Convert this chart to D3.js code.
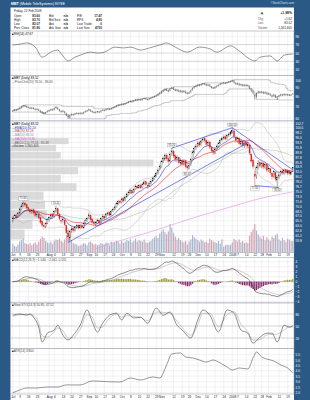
<!DOCTYPE html>
<html>
<head>
<meta charset="utf-8">
<script src="https://cdn.jsdelivr.net/npm/d3@7"></script>
<style>
  html, body { margin: 0; padding: 0; background: #2b5986; }
  svg { display: block; font-family: "Liberation Sans", Arial, sans-serif; }
</style>
</head>
<body>
<svg id="chart"></svg>
<script>
// ---------- data ----------
const startDate = '2007-07-02';
const endDate = '2008-02-22';
const holidays = ['2007-07-04', '2007-09-03', '2007-11-22', '2007-12-25', '2008-01-01', '2008-01-21', '2008-02-18'];

// daily prices, one row per week
const opens = [
  65.6, 66.3, 67.1, 66.6,
  67.9, 69.0, 70.3, 71.1, 70.5,
  69.6, 68.9, 68.1, 68.9, 68.0,
  67.0, 67.5, 66.4, 65.3, 64.0,
  63.9, 64.8, 65.8, 66.3, 67.5,
  66.9, 68.4, 69.2, 67.4, 65.5,
  65.6, 65.7, 64.1, 61.8, 60.5,
  62.6, 63.2, 62.7, 63.6, 64.1,
  63.4, 64.2, 63.4, 64.9, 65.5,
  66.4, 67.2, 65.9, 64.9,
  64.4, 64.8, 65.6, 64.8, 66.2,
  66.9, 66.4, 67.4, 68.0, 67.3,
  68.6, 69.0, 69.9, 70.8, 71.7,
  71.3, 72.6, 71.9, 73.1, 73.8,
  74.7, 75.3, 74.5, 75.9, 76.8,
  76.2, 77.1, 76.3, 77.6, 78.4,
  77.0, 76.9, 77.8, 78.7, 79.6,
  80.5, 81.3, 82.9, 84.0, 86.1,
  87.0, 88.6, 87.3, 86.2, 89.2,
  90.0, 88.4, 86.7, 87.6, 85.4,
  86.5, 85.0, 86.3, 84.2,
  83.4, 84.8, 87.1, 89.9, 91.7,
  92.3, 93.8, 92.9, 94.6, 95.5,
  94.8, 93.0, 94.1, 91.6, 90.5,
  89.4, 90.9, 92.3, 93.7, 95.0,
  95.7, 96.4, 95.5, 96.9,
  97.6, 98.5, 99.0, 96.3,
  94.6, 95.8, 93.2, 94.4, 92.5,
  93.8, 92.4, 92.8, 89.0, 86.5,
  81.2, 80.6, 83.8, 85.6,
  84.1, 85.4, 83.7, 84.9, 82.8,
  83.2, 81.5, 80.4, 81.8, 79.0,
  79.9, 81.0, 82.4, 81.5, 82.8,
  81.6, 82.5, 81.2, 83.60
];
const highs = [
  66.8, 67.5, 67.6, 68.2,
  69.4, 70.6, 71.6, 71.5, 70.9,
  70.0, 69.3, 69.2, 69.3, 68.3,
  68.1, 67.9, 66.7, 65.8, 65.0,
  65.1, 66.3, 66.9, 67.8, 68.1,
  68.8, 70.2, 69.6, 67.9, 66.4,
  66.5, 66.0, 64.4, 62.9, 62.9,
  63.8, 63.7, 64.0, 64.6, 64.5,
  64.6, 64.7, 65.2, 66.1, 66.7,
  68.0, 67.5, 66.3, 65.5,
  65.4, 66.0, 65.9, 66.5, 67.3,
  67.2, 68.0, 68.4, 68.3, 68.9,
  69.6, 70.3, 71.4, 72.1, 72.2,
  72.9, 73.0, 73.5, 74.5, 75.2,
  75.9, 75.7, 76.3, 77.3, 77.4,
  77.6, 77.8, 78.0, 78.9, 78.8,
  77.9, 78.5, 79.3, 80.1, 81.0,
  82.0, 83.4, 84.8, 86.6, 88.0,
  89.3, 89.4, 88.1, 89.6, 91.5,
  90.8, 89.0, 88.6, 88.0, 87.3,
  87.0, 87.1, 86.8, 84.9,
  85.3, 87.5, 90.4, 92.3, 93.4,
  94.5, 94.6, 95.3, 96.2, 96.3,
  95.2, 94.9, 94.6, 92.3, 91.2,
  91.6, 93.0, 94.2, 95.6, 96.5,
  96.9, 96.8, 97.4, 98.3,
  99.0, 100.5, 99.6, 97.0,
  96.4, 96.1, 95.0, 94.9, 94.3,
  94.5, 94.0, 93.2, 89.5, 87.2,
  82.6, 84.5, 86.6, 86.4,
  86.0, 85.9, 85.6, 85.3, 84.5,
  83.6, 82.0, 82.8, 82.2, 80.6,
  81.7, 82.9, 83.1, 83.3, 83.2,
  83.0, 82.9, 82.5, 83.70
];
const lows = [
  65.0, 66.0, 66.1, 66.4,
  67.5, 68.7, 69.8, 69.9, 69.0,
  68.5, 67.8, 67.6, 67.5, 66.7,
  66.6, 66.0, 64.6, 63.5, 62.9,
  63.3, 64.5, 65.2, 65.9, 66.2,
  66.5, 67.9, 67.1, 65.6, 64.5,
  64.9, 63.9, 61.6, 59.3, 59.8,
  61.9, 62.0, 62.3, 63.1, 62.9,
  63.0, 63.0, 63.1, 64.5, 65.1,
  66.0, 65.4, 64.6, 64.0,
  63.8, 64.5, 64.3, 64.6, 65.8,
  65.8, 66.2, 67.0, 66.8, 67.1,
  68.2, 68.7, 69.6, 70.5, 70.7,
  71.0, 71.3, 71.6, 72.8, 73.5,
  74.2, 73.9, 74.2, 75.5, 75.6,
  75.9, 75.7, 76.0, 77.2, 76.9,
  75.8, 76.5, 77.4, 78.3, 79.2,
  80.1, 81.0, 82.5, 83.6, 85.4,
  86.2, 86.4, 84.9, 85.8, 88.4,
  87.4, 85.9, 85.8, 84.8, 84.6,
  84.2, 84.3, 83.3, 82.4,
  82.9, 84.2, 86.8, 89.2, 90.8,
  91.9, 92.0, 92.5, 93.9, 93.8,
  92.4, 92.3, 91.2, 89.5, 88.6,
  88.9, 90.3, 91.8, 93.1, 94.3,
  95.1, 94.8, 95.1, 96.3,
  96.9, 97.8, 95.8, 93.9,
  93.8, 92.7, 92.4, 91.8, 91.6,
  91.9, 91.5, 88.6, 85.4, 83.2,
  77.0, 79.4, 82.9, 83.5,
  83.4, 83.0, 82.9, 82.0, 81.9,
  80.9, 79.1, 79.8, 78.6, 76.5,
  79.2, 80.4, 80.9, 80.8, 81.1,
  80.9, 80.6, 80.7, 82.07
];
const closes = [
  66.2, 67.0, 66.5, 67.8,
  68.9, 70.1, 71.0, 70.4, 69.5,
  69.0, 68.2, 68.8, 67.9, 67.1,
  67.6, 66.3, 65.0, 64.2, 63.8,
  64.6, 65.9, 66.4, 67.2, 66.8,
  68.3, 69.4, 67.6, 66.1, 65.4,
  65.8, 64.3, 62.0, 60.8, 62.4,
  63.1, 62.6, 63.5, 64.0, 63.3,
  64.1, 63.5, 64.8, 65.6, 66.2,
  67.3, 65.8, 65.1, 64.6,
  64.9, 65.5, 64.7, 66.1, 66.8,
  66.3, 67.5, 67.9, 67.2, 68.4,
  69.1, 69.8, 70.9, 71.6, 71.2,
  72.4, 71.8, 73.0, 73.9, 74.6,
  75.2, 74.4, 75.8, 76.7, 76.1,
  77.0, 76.2, 77.5, 78.3, 77.4,
  76.8, 77.9, 78.6, 79.5, 80.3,
  81.4, 82.7, 84.1, 85.9, 87.2,
  88.4, 87.1, 86.0, 88.9, 90.3,
  88.2, 86.9, 87.5, 85.6, 86.4,
  85.1, 86.2, 84.0, 83.5,
  84.6, 86.9, 89.8, 91.5, 92.4,
  93.6, 92.8, 94.5, 95.3, 94.6,
  93.1, 94.0, 91.8, 90.4, 89.6,
  90.8, 92.2, 93.5, 94.9, 95.6,
  96.2, 95.4, 96.8, 97.5,
  98.3, 99.2, 96.5, 94.8,
  95.6, 93.4, 94.2, 92.7, 93.5,
  92.6, 93.1, 89.4, 86.2, 84.1,
  80.3, 83.6, 85.4, 84.3,
  85.2, 83.9, 84.8, 82.6, 83.4,
  81.7, 80.2, 82.1, 79.3, 79.8,
  80.9, 82.2, 81.6, 82.7, 81.8,
  82.4, 81.3, 81.9, 83.52
];
// volume in millions of shares
const volumes = [
  1.2, 0.9, 0.8, 1.1,
  1.5, 1.7, 1.9, 1.3, 1.2,
  1.1, 1.3, 1.0, 1.2, 1.4,
  1.1, 1.5, 1.9, 2.2, 2.0,
  1.6, 1.4, 1.3, 1.5, 1.2,
  1.6, 1.8, 1.7, 1.9, 1.6,
  1.4, 1.8, 2.4, 3.1, 2.6,
  1.7, 1.3, 1.2, 1.1, 0.9,
  1.0, 1.1, 1.3, 1.2, 1.0,
  1.4, 1.5, 1.3, 1.1,
  1.2, 1.0, 1.1, 1.3, 1.2,
  1.1, 1.4, 1.3, 1.0, 1.5,
  1.3, 1.4, 1.6, 1.5, 1.2,
  1.6, 1.3, 1.5, 1.7, 1.6,
  1.8, 1.4, 1.6, 1.9, 1.5,
  1.7, 1.6, 1.5, 1.8, 1.4,
  1.3, 1.5, 1.6, 1.9, 2.1,
  2.3, 2.0, 2.6, 2.9, 3.2,
  2.8, 2.5, 2.9, 3.9, 3.4,
  2.7, 2.2, 1.8, 2.0, 1.7,
  1.5, 1.4, 1.6, 1.1,
  1.5, 1.8, 2.4, 2.1, 1.9,
  1.7, 1.5, 1.8, 1.6, 1.4,
  1.5, 1.3, 1.9, 1.7, 1.5,
  1.4, 1.3, 1.6, 1.2, 1.8,
  0.8, 1.0, 1.1, 1.0,
  1.1, 1.4, 1.9, 1.7,
  1.5, 1.8, 1.4, 1.6, 1.3,
  1.4, 1.3, 2.3, 2.8, 3.2,
  3.9, 3.0, 2.5, 2.2,
  1.9, 2.3, 1.7, 2.1, 1.8,
  1.6, 2.2, 2.0, 2.4, 2.6,
  1.8, 1.6, 2.0, 1.7, 1.5,
  1.9, 1.8, 1.6, 1.561605
];

const ma200Days = [48, 58, 68, 78, 88, 98, 107, 117, 126, 135, 144, 154, 162];
const ma200Values = [57.6, 59.2, 60.6, 62.0, 63.6, 65.3, 66.8, 68.4, 69.8, 71.3, 72.7, 73.9, 74.85];

// volume-by-price zones (bottom zone first), millions
const vbpEdges = [60, 63, 66, 69, 72, 75, 78, 81, 84, 87, 90, 93, 96];
const vbpVolume = [9, 14, 23, 22, 21, 42, 32, 43, 91, 32, 29, 37];

// drawn trend lines: [day, price] end points
const trendFrom = [[32, 59.3], [92, 91.5], [127, 100.5], [140, 77.0]];
const trendTo = [[136, 93.8], [127, 100.5], [162, 82.8], [154, 76.3]];

// price labels at the pivots
const pivotDays = [6, 25, 92, 101, 127, 140, 153];
const pivotSide = ['high', 'high', 'high', 'low', 'high', 'low', 'low'];
const pivotText = ['71.60', '70.20', '91.50', '82.40', '100.50', '77.00', '76.50'];

// indicator lines
const rsiDays = [0, 4, 8, 13, 17, 22, 26, 29, 32, 36, 39, 45, 49, 53, 59, 64, 68, 74, 79, 85, 89, 94, 101, 108, 114, 118, 126, 131, 137, 140, 143, 149, 153, 157, 162];
const rsiValues = [69, 71, 74, 64, 40, 52, 57, 43, 31, 40, 45, 52, 50, 52, 64, 62, 64, 57, 62, 69, 74, 64, 52, 64, 60, 52, 67, 55, 36, 31, 40, 43, 31, 45, 47.67];

const stoDays = [0, 4, 8, 10, 12, 15, 17, 20, 24, 26, 29, 32, 35, 39, 43, 46, 49, 52, 56, 60, 63, 66, 70, 74, 78, 83, 87, 91, 95, 98, 103, 107, 110, 114, 119, 124, 128, 132, 136, 139, 143, 147, 150, 153, 157, 160, 162];
const stoK = [77, 80, 77, 80, 72, 47, 10, 32, 40, 52, 27, 15, 27, 52, 90, 60, 35, 57, 77, 82, 65, 82, 70, 72, 57, 95, 77, 85, 52, 40, 20, 65, 90, 77, 35, 90, 82, 40, 32, 7, 22, 32, 32, 10, 52, 47, 50.85];
const stoD = [75, 78, 79, 78, 76, 58, 25, 22, 36, 45, 38, 20, 21, 42, 78, 72, 45, 48, 70, 80, 72, 76, 74, 71, 63, 85, 84, 82, 62, 46, 27, 52, 82, 82, 48, 78, 86, 55, 36, 15, 16, 28, 29, 30, 40, 48, 47.52];

const atrDays = [0, 4, 8, 14, 20, 26, 31, 39, 46, 55, 62, 68, 74, 81, 85, 89, 92, 97, 100, 104, 108, 112, 116, 120, 124, 127, 131, 136, 139, 141, 144, 147, 151, 155, 159, 162];
const atrValues = [1.97, 2.22, 2.41, 2.41, 2.5, 2.5, 2.69, 2.69, 3.06, 2.99, 2.96, 3.33, 3.15, 3.43, 3.33, 4.54, 5.56, 5.65, 5.28, 5.19, 5.0, 4.81, 5.0, 4.72, 4.35, 4.07, 4.26, 4.17, 5.19, 5.74, 5.28, 5.09, 4.91, 4.54, 4.26, 3.80];

// axis tick labels
const rsiTicks = [90, 70, 50, 30, 10];
const chanTicks = [100, 90, 80, 70, 60];
const priceTicks = [102.7, 100.5, 98.2, 96.0, 93.9, 91.8, 89.8, 87.8, 85.8, 83.9, 82.0, 80.2, 78.4, 76.7, 75.0, 73.3, 71.6, 70.0, 68.5, 67.0, 65.5, 64.0, 62.6, 61.2, 59.8];
const macdTicks = [4, 3, 2, 1, 0, -1, -2, -3, -4];
const stoTicks = [80, 50, 20];
const atrTicks = [5.5, 5.0, 4.5, 4.0, 3.5, 3.0, 2.5, 2.0];
const monthNames = ['2008', 'Feb', 'Mar', 'Apr', 'May', 'Jun', 'Jul', 'Aug', 'Sep', 'Oct', 'Nov', 'Dec'];

// quote box
const symbolName = 'MBT';
const companyName = '(Mobile TeleSystems) NYSE';
const quoteDate = 'Friday, 22 Feb 2008';
const quoteRows = [
  ['Open', '83.60', 'Bid', 'n/a', 'P/E', '17.47'],
  ['High', '83.70', 'Bid Size', 'n/a', 'EPS', '4.80'],
  ['Low', '82.07', 'Ask', 'n/a', 'Last Trade', '0'],
  ['Prev Close', '81.90', 'Ask Size', 'n/a', 'Last Size', '4700']
];
const quotePct = '+1.98%';
const quoteRight = [['Chg', '+1.62'], ['Last', '83.52'], ['Volume', '1,561,605']];


class StockChart {

    constructor(_config) {
        this.config = {
            parentElement: _config.parentElement,
            containerWidth: _config.containerWidth || 310,
            containerHeight: _config.containerHeight || 400,
            left: 10.5,
            right: 294
        }
        this.initVis();
    }

    initVis() {
        let vis = this;
        const n = closes.length;

        vis.svg = d3.select(vis.config.parentElement)
            .attr('width', vis.config.containerWidth)
            .attr('height', vis.config.containerHeight);

        vis.panels = {
            rsi:   {top: 31,    bottom: 75.5},
            chan:  {top: 75.5,  bottom: 121},
            price: {top: 121,   bottom: 252.5},
            macd:  {top: 257.5, bottom: 303},
            sto:   {top: 303,   bottom: 348.5},
            atr:   {top: 348.5, bottom: 394}
        };

        vis.x = d3.scaleLinear().domain([0, n - 1]).range([12.8, 292.8]);
        vis.rsiY = d3.scaleLinear().domain([0, 100]).range([74, 32]);
        vis.chanY = d3.scaleLog().domain([60, 100]).range([118, 80]);
        vis.priceY = d3.scaleLog().domain([58.6, 102.7]).range([245, 123]);
        vis.volY = d3.scaleLinear().domain([0, 4.2]).range([252.5, 222]);
        vis.vbpW = d3.scaleLinear().domain([0, 91]).range([0, 143]);
        vis.macdY = d3.scaleLinear().domain([-4, 4]).range([301.7, 261.7]);
        vis.stoY = d3.scaleLinear().domain([0, 100]).range([346, 306]);
        vis.atrY = d3.scaleLinear().domain([2, 5.5]).range([392.4, 354.6]);

        vis.updateVis();
    }

    updateVis() {
        let vis = this;

        // trading days and the date labels
        const hol = new Set(holidays);
        vis.days = [];
        for (let d = new Date(startDate + 'T00:00:00Z'); d <= new Date(endDate + 'T00:00:00Z'); d.setUTCDate(d.getUTCDate() + 1)) {
            const wd = d.getUTCDay();
            if (wd === 0 || wd === 6 || hol.has(d.toISOString().slice(0, 10))) continue;
            vis.days.push(new Date(d));
        }
        const monthIdx = [], weekIdx = [];
        vis.days.forEach((d, i) => {
            const prev = vis.days[i - 1];
            if (!prev || prev.getUTCMonth() !== d.getUTCMonth()) monthIdx.push(i);
            else if (d.getUTCDay() < prev.getUTCDay()) weekIdx.push(i);
        });
        vis.dateLabels = new Map();
        monthIdx.forEach(i => vis.dateLabels.set(i, monthNames[vis.days[i].getUTCMonth()]));
        weekIdx.forEach(i => {
            if (!monthIdx.some(m => Math.abs(m - i) <= 2)) vis.dateLabels.set(i, String(vis.days[i].getUTCDate()));
        });
        vis.dateIdx = Array.from(vis.dateLabels.keys()).sort((a, b) => a - b);

        // overlays computed from the prices
        const sma = (arr, p) => arr.map((v, i) => d3.mean(arr.slice(Math.max(0, i - p + 1), i + 1)));
        const ema = (arr, p) => {
            const k = 2 / (p + 1), out = [];
            arr.forEach((v, i) => out.push(i ? v * k + out[i - 1] * (1 - k) : v));
            return out;
        };
        vis.ema10 = ema(closes, 10);
        vis.ma20 = sma(closes, 20);
        vis.ma50 = sma(closes, 50);
        vis.bbUp = [], vis.bbDn = [];
        closes.forEach((v, i) => {
            const w = closes.slice(Math.max(0, i - 19), i + 1);
            const m = d3.mean(w);
            const sd = Math.sqrt(d3.mean(w, c => (c - m) * (c - m)));
            vis.bbUp.push(m + 2 * sd);
            vis.bbDn.push(m - 2 * sd);
        });
        vis.chanUp = highs.map((v, i) => i ? d3.max(highs.slice(Math.max(0, i - 20), i)) : v);
        vis.chanDn = lows.map((v, i) => i ? d3.min(lows.slice(Math.max(0, i - 20), i)) : v);

        const e12 = ema(closes, 12), e26 = ema(closes, 26);
        vis.macd = e12.map((v, i) => v - e26[i]);
        vis.signal = ema(vis.macd, 9);
        vis.hist = vis.macd.map((v, i) => v - vis.signal[i]);

        vis.renderVis();
    }

    panelFrame(p, name, ticks, yScale, fmt) {
        let vis = this;
        const L = vis.config.left, R = vis.config.right;
        const g = vis.svg.append('g');
        g.append('rect')
            .attr('x', L).attr('y', p.top)
            .attr('width', R - L).attr('height', p.bottom - p.top)
            .attr('fill', '#fff');
        g.selectAll('.vgrid')
            .data(vis.dateIdx)
            .join('line')
            .attr('x1', d => vis.x(d)).attr('x2', d => vis.x(d))
            .attr('y1', p.top).attr('y2', p.bottom)
            .attr('stroke', '#dedede').attr('stroke-width', 0.4);
        g.selectAll('.hgrid')
            .data(ticks)
            .join('line')
            .attr('x1', L).attr('x2', R)
            .attr('y1', d => yScale(d)).attr('y2', d => yScale(d))
            .attr('stroke', '#dedede').attr('stroke-width', 0.4);

        vis.svg.append('clipPath').attr('id', 'clip-' + name)
            .append('rect')
            .attr('x', L).attr('y', p.top)
            .attr('width', R - L).attr('height', p.bottom - p.top);

        // right axis on the blue margin
        vis.svg.append('g')
            .attr('transform', `translate(${R},0)`)
            .call(d3.axisRight(yScale).tickValues(ticks).tickSize(0).tickPadding(1.6).tickFormat(fmt))
            .call(a => a.select('.domain').remove())
            .attr('font-size', 3.1)
            .attr('font-family', '"Liberation Sans", Arial, sans-serif')
            .call(a => a.selectAll('text').attr('fill', '#ffffff'));

        return vis.svg.append('g').attr('clip-path', `url(#clip-${name})`);
    }

    border(p) {
        let vis = this;
        vis.svg.append('rect')
            .attr('x', vis.config.left).attr('y', p.top)
            .attr('width', vis.config.right - vis.config.left).attr('height', p.bottom - p.top)
            .attr('fill', 'none').attr('stroke', '#8594a8').attr('stroke-width', 0.5);
    }

    legend(x, y, items) {
        let vis = this;
        const g = vis.svg.append('g').attr('font-size', 3.1);
        items.forEach((d, k) => {
            const t = g.append('text').attr('x', x).attr('y', y + k * 3.7);
            t.append('tspan').attr('fill', d.color).attr('font-size', 2.8).text(d.sym);
            t.append('tspan').attr('fill', d.textColor || d.color).text(d.text);
        });
    }

    dateAxis(y) {
        let vis = this;
        vis.svg.append('g')
            .attr('transform', `translate(0,${y})`)
            .call(d3.axisBottom(vis.x).tickValues(vis.dateIdx).tickSize(0).tickPadding(0)
                .tickFormat(i => vis.dateLabels.get(i)))
            .call(a => a.select('.domain').remove())
            .attr('font-size', 3.2)
            .attr('font-family', '"Liberation Sans", Arial, sans-serif')
            .call(a => a.selectAll('text').attr('fill', '#222'));
    }

    renderVis() {
        let vis = this;
        const n = closes.length;
        const L = vis.config.left, R = vis.config.right;
        const P = vis.panels;
        const f2 = d3.format('.2f'), f3 = d3.format('.3f');
        const x = vis.x;

        // frame
        vis.svg.append('rect').attr('width', 310).attr('height', 400).attr('fill', '#2b5986');
        vis.svg.append('rect').attr('x', L).attr('y', 7.5).attr('width', R - L).attr('height', 392.5).attr('fill', '#fff');

        // title bar
        const title = vis.svg.append('text').attr('x', 11).attr('y', 5).attr('font-size', 3.6).attr('fill', '#fff');
        title.append('tspan').attr('font-weight', 'bold').text(symbolName + ' ');
        title.append('tspan').text(companyName);
        vis.svg.append('text').attr('x', R).attr('y', 4.4).attr('text-anchor', 'end')
            .attr('font-size', 2.8).attr('fill', '#d5e3f2').text('\u00a9StockCharts.com');

        // quote box
        const q = vis.svg.append('g').attr('font-size', 3.1).attr('fill', '#222');
        q.append('text').attr('x', 14).attr('y', 12.3).text(quoteDate);
        const colLab = [14, 49, 77], colVal = [40, 68, 102];
        quoteRows.forEach((row, r) => {
            const yy = 17.3 + r * 3.9;
            for (let c = 0; c < 3; c++) {
                q.append('text').attr('x', colLab[c]).attr('y', yy).text(row[c * 2]);
                q.append('text').attr('x', colVal[c]).attr('y', yy).attr('text-anchor', 'end')
                    .attr('font-weight', 'bold').text(row[c * 2 + 1]);
            }
        });
        q.append('path').attr('d', 'M262,11.6 L263.6,14.3 L260.4,14.3 Z').attr('fill', '#1f8a2e');
        q.append('text').attr('x', 292).attr('y', 14.4).attr('text-anchor', 'end')
            .attr('font-weight', 'bold').attr('font-size', 3.4).text(quotePct);
        quoteRight.forEach((row, r) => {
            const yy = 20.2 + r * 4.2;
            q.append('text').attr('x', 258).attr('y', yy).attr('font-size', 2.8).attr('fill', '#555').text(row[0]);
            q.append('text').attr('x', 292).attr('y', yy).attr('text-anchor', 'end').text(row[1]);
        });

        // ---------- RSI ----------
        let g = vis.panelFrame(P.rsi, 'rsi', rsiTicks, vis.rsiY, d3.format('d'));
        [70, 30].forEach(v => g.append('line').attr('x1', L).attr('x2', R)
            .attr('y1', vis.rsiY(v)).attr('y2', vis.rsiY(v)).attr('stroke', '#b0b0b0').attr('stroke-width', 0.4));
        g.append('line').attr('x1', L).attr('x2', R).attr('y1', vis.rsiY(50)).attr('y2', vis.rsiY(50))
            .attr('stroke', '#999').attr('stroke-width', 0.4).attr('stroke-dasharray', '1.2,0.8');
        g.append('path').datum(rsiValues)
            .attr('d', d3.line().x((v, i) => x(rsiDays[i])).y(v => vis.rsiY(v)).curve(d3.curveMonotoneX))
            .attr('fill', 'none').attr('stroke', '#333').attr('stroke-width', 0.5);
        vis.border(P.rsi);
        vis.legend(12, 34.8, [{sym: '\u25a0', color: '#000', text: `RSI(14) ${f2(rsiValues[rsiValues.length - 1])}`}]);

        // ---------- price channel panel ----------
        g = vis.panelFrame(P.chan, 'chan', chanTicks, vis.chanY, d3.format('d'));
        [vis.chanUp, vis.chanDn].forEach(arr => g.append('path').datum(arr)
            .attr('d', d3.line().x((v, i) => x(i)).y(v => vis.chanY(v)).curve(d3.curveStepAfter))
            .attr('fill', 'none').attr('stroke', '#8a8a9a').attr('stroke-width', 0.45));
        g.selectAll('.hl').data(closes).join('line')
            .attr('x1', (d, i) => x(i)).attr('x2', (d, i) => x(i))
            .attr('y1', (d, i) => vis.chanY(highs[i])).attr('y2', (d, i) => vis.chanY(lows[i]))
            .attr('stroke', '#2a2a2a').attr('stroke-width', 0.5);
        g.append('path').datum(closes)
            .attr('d', d3.line().x((v, i) => x(i)).y(v => vis.chanY(v)))
            .attr('fill', 'none').attr('stroke', '#444').attr('stroke-width', 0.3);
        vis.border(P.chan);
        vis.legend(12, 79.3, [
            {sym: '\u25a0', color: '#000', text: `${symbolName} (Daily) ${f2(closes[n - 1])}`},
            {sym: '\u2014', color: '#8a8a9a', textColor: '#555', text: `PriceChnl(20) ${f2(vis.chanDn[n - 1])} - ${f2(vis.chanUp[n - 1])}`}
        ]);

        // ---------- price panel ----------
        g = vis.panelFrame(P.price, 'price', priceTicks, vis.priceY, d3.format('.1f'));
        // volume by price
        g.selectAll('.vbp').data(vbpVolume).join('rect')
            .attr('x', L)
            .attr('y', (d, i) => vis.priceY(vbpEdges[i + 1]) + 0.4)
            .attr('width', d => vis.vbpW(d))
            .attr('height', (d, i) => vis.priceY(vbpEdges[i]) - vis.priceY(vbpEdges[i + 1]) - 0.8)
            .attr('fill', '#cfcfcf').attr('opacity', 0.75);
        // volume
        g.selectAll('.vol').data(volumes).join('rect')
            .attr('x', (d, i) => x(i) - 0.6)
            .attr('y', d => vis.volY(d))
            .attr('width', 1.2)
            .attr('height', d => vis.volY(0) - vis.volY(d))
            .attr('fill', (d, i) => (i && closes[i] < closes[i - 1]) ? '#d3a6b4' : '#a9b6cc');
        // bands and averages
        const ln = arr => d3.line().x((v, i) => x(i)).y(v => vis.priceY(v))(arr);
        [vis.bbUp, vis.bbDn].forEach(arr => g.append('path').attr('d', ln(arr))
            .attr('fill', 'none').attr('stroke', '#b4b4b4').attr('stroke-width', 0.5));
        g.append('path').datum(ma200Values)
            .attr('d', d3.line().x((v, i) => x(ma200Days[i])).y(v => vis.priceY(v)).curve(d3.curveMonotoneX))
            .attr('fill', 'none').attr('stroke', '#e58be5').attr('stroke-width', 0.6);
        g.append('path').attr('d', ln(vis.ma50)).attr('fill', 'none').attr('stroke', '#9fb59f').attr('stroke-width', 0.5);
        g.append('path').attr('d', ln(vis.ma20)).attr('fill', 'none').attr('stroke', '#e3261f').attr('stroke-width', 0.6);
        g.append('path').attr('d', ln(vis.ema10)).attr('fill', 'none').attr('stroke', '#2b36c8').attr('stroke-width', 0.6);
        // candles
        const cColor = i => (i && closes[i] < closes[i - 1]) ? '#e0201b' : '#000';
        g.selectAll('.wick').data(closes).join('line')
            .attr('x1', (d, i) => x(i)).attr('x2', (d, i) => x(i))
            .attr('y1', (d, i) => vis.priceY(highs[i])).attr('y2', (d, i) => vis.priceY(lows[i]))
            .attr('stroke', (d, i) => cColor(i)).attr('stroke-width', 0.35);
        g.selectAll('.body').data(closes).join('rect')
            .attr('x', (d, i) => x(i) - 0.55)
            .attr('y', (d, i) => vis.priceY(Math.max(opens[i], d)))
            .attr('width', 1.1)
            .attr('height', (d, i) => Math.max(0.4, Math.abs(vis.priceY(opens[i]) - vis.priceY(d))))
            .attr('fill', (d, i) => d > opens[i] ? '#fff' : cColor(i))
            .attr('stroke', (d, i) => cColor(i)).attr('stroke-width', 0.25);
        // trend lines
        g.selectAll('.trend').data(trendFrom).join('line')
            .attr('x1', d => x(d[0])).attr('y1', d => vis.priceY(d[1]))
            .attr('x2', (d, i) => x(trendTo[i][0])).attr('y2', (d, i) => vis.priceY(trendTo[i][1]))
            .attr('stroke', '#1f2fd0').attr('stroke-width', 0.6);
        // pivot labels
        pivotDays.forEach((day, k) => {
            const yy = pivotSide[k] === 'high' ? vis.priceY(highs[day]) - 4.6 : vis.priceY(lows[day]) + 1.2;
            const w = pivotText[k].length * 1.55 + 1;
            g.append('rect').attr('x', x(day) - w / 2).attr('y', yy).attr('width', w).attr('height', 3.4)
                .attr('fill', '#fff').attr('stroke', '#8c8c8c').attr('stroke-width', 0.3);
            g.append('text').attr('x', x(day)).attr('y', yy + 2.6).attr('text-anchor', 'middle')
                .attr('font-size', 2.7).attr('fill', '#333').text(pivotText[k]);
        });
        vis.border(P.price);
        vis.legend(12, 125, [
            {sym: '\u25a0', color: '#000', text: `${symbolName} (Daily) ${f2(closes[n - 1])}`},
            {sym: '\u2014', color: '#2b36c8', text: `EMA(10) ${f2(vis.ema10[n - 1])}`},
            {sym: '\u2014', color: '#e3261f', text: `MA(20) ${f2(vis.ma20[n - 1])}`},
            {sym: '\u2014', color: '#7c9c7c', text: `MA(50) ${f2(vis.ma50[n - 1])}`},
            {sym: '\u2014', color: '#d55fd5', text: `MA(200) ${f2(ma200Values[ma200Values.length - 1])}`},
            {sym: '\u2014', color: '#999', textColor: '#666', text: `BB(20,2.0) ${f2(vis.bbDn[n - 1])} - ${f2(vis.bbUp[n - 1])}`},
            {sym: '\u25a0', color: '#7f8fb0', textColor: '#333', text: `Volume ${d3.format(',')(Math.round(volumes[n - 1] * 1e6))}`}
        ]);
        vis.dateAxis(253.6);

        // ---------- MACD ----------
        g = vis.panelFrame(P.macd, 'macd', macdTicks, vis.macdY, d3.format('d'));
        g.append('line').attr('x1', L).attr('x2', R).attr('y1', vis.macdY(0)).attr('y2', vis.macdY(0))
            .attr('stroke', '#9a9a9a').attr('stroke-width', 0.4);
        g.selectAll('.hist').data(vis.hist).join('rect')
            .attr('x', (d, i) => x(i) - 0.65)
            .attr('y', d => vis.macdY(Math.max(0, d)))
            .attr('width', 1.3)
            .attr('height', d => Math.abs(vis.macdY(d) - vis.macdY(0)))
            .attr('fill', d => d >= 0 ? '#9d9a3c' : '#8e2f6f');
        g.append('path').datum(vis.signal)
            .attr('d', d3.line().x((v, i) => x(i)).y(v => vis.macdY(v)))
            .attr('fill', 'none').attr('stroke', '#9a9aa6').attr('stroke-width', 0.5);
        g.append('path').datum(vis.macd)
            .attr('d', d3.line().x((v, i) => x(i)).y(v => vis.macdY(v)))
            .attr('fill', 'none').attr('stroke', '#222').attr('stroke-width', 0.5);
        vis.border(P.macd);
        vis.legend(12, 261, [{sym: '\u25a0', color: '#000', textColor: '#444',
            text: `MACD(12,26,9) ${f3(vis.macd[n - 1])}, ${f3(vis.signal[n - 1])}, ${f3(vis.hist[n - 1])}`}]);

        // ---------- Slow stochastic ----------
        g = vis.panelFrame(P.sto, 'sto', stoTicks, vis.stoY, d3.format('d'));
        [80, 50, 20].forEach(v => g.append('line').attr('x1', L).attr('x2', R)
            .attr('y1', vis.stoY(v)).attr('y2', vis.stoY(v)).attr('stroke', '#a8a8a8').attr('stroke-width', 0.4));
        g.append('path').datum(stoD)
            .attr('d', d3.line().x((v, i) => x(stoDays[i])).y(v => vis.stoY(v)).curve(d3.curveMonotoneX))
            .attr('fill', 'none').attr('stroke', '#9a9a9a').attr('stroke-width', 0.5);
        g.append('path').datum(stoK)
            .attr('d', d3.line().x((v, i) => x(stoDays[i])).y(v => vis.stoY(v)).curve(d3.curveMonotoneX))
            .attr('fill', 'none').attr('stroke', '#222').attr('stroke-width', 0.5);
        vis.border(P.sto);
        vis.legend(12, 306.3, [{sym: '\u25a0', color: '#000', textColor: '#444',
            text: `Slow STO(14,3) ${f2(stoK[stoK.length - 1])}, ${f2(stoD[stoD.length - 1])}`}]);

        // ---------- ATR ----------
        g = vis.panelFrame(P.atr, 'atr', atrTicks, vis.atrY, d3.format('.1f'));
        g.append('path').datum(atrValues)
            .attr('d', d3.line().x((v, i) => x(atrDays[i])).y(v => vis.atrY(v)).curve(d3.curveMonotoneX))
            .attr('fill', 'none').attr('stroke', '#333').attr('stroke-width', 0.5);
        vis.border(P.atr);
        vis.legend(12, 351.6, [{sym: '\u25a0', color: '#000', textColor: '#444',
            text: `ATR(14) ${f3(atrValues[atrValues.length - 1])}`}]);
        vis.dateAxis(395.4);
    }
}

new StockChart({parentElement: '#chart'});
</script>
</body>
</html>
